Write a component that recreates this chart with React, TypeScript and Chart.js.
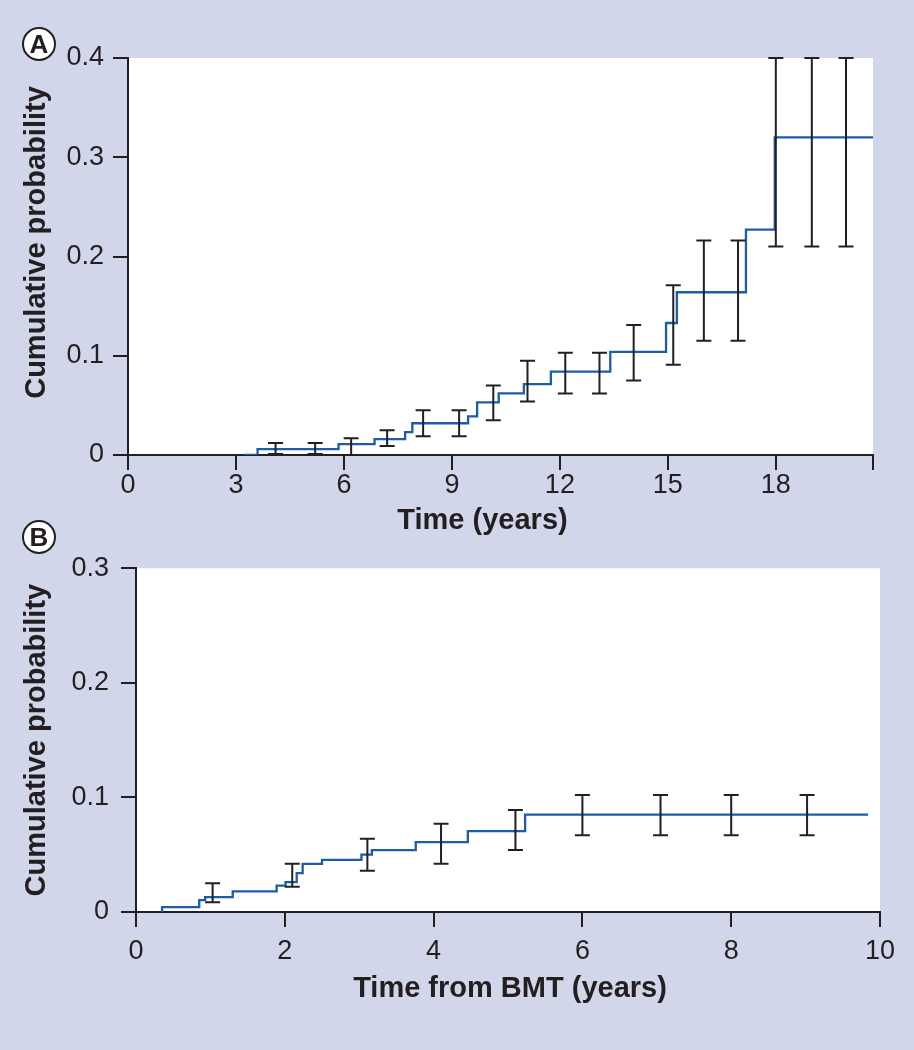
import React, { useEffect, useRef } from 'react';
import { Chart, registerables } from 'chart.js';

Chart.register(...registerables);

const BG = '#d1d6ea';
const INK = '#231f20';
const BLUE = '#1d5ca8';
const FONT = '"Liberation Sans", Arial, Helvetica, sans-serif';

// ---------- Panel A ----------
const stepTimesA = [3.2, 3.6, 5.85, 6.85, 7.7, 7.9, 9.45, 9.7, 10.3, 11.0, 11.75, 13.4, 14.95, 15.25, 17.17, 17.97, 20.7];
const stepValuesA = [0, 0.006, 0.011, 0.016, 0.023, 0.032, 0.039, 0.053, 0.062, 0.0715, 0.084, 0.104, 0.133, 0.164, 0.227, 0.32, 0.32];
const errTimesA = [4.1, 5.2, 6.2, 7.2, 8.2, 9.2, 10.15, 11.1, 12.15, 13.1, 14.05, 15.15, 16.0, 16.95, 18.0, 19.0, 19.95];
const errLowA = [0.001, 0.001, 0, 0.009, 0.019, 0.019, 0.035, 0.054, 0.062, 0.062, 0.075, 0.091, 0.115, 0.115, 0.21, 0.21, 0.21];
const errHighA = [0.012, 0.012, 0.017, 0.025, 0.045, 0.045, 0.07, 0.095, 0.103, 0.103, 0.131, 0.171, 0.216, 0.216, 0.4, 0.4, 0.4];
const xMaxA = 20.7;
const xStepA = 3;
const yMaxA = 0.4;

// ---------- Panel B ----------
const stepTimesB = [0.35, 0.35, 0.85, 0.93, 1.3, 1.89, 2.01, 2.16, 2.24, 2.5, 3.03, 3.17, 3.76, 4.46, 5.23, 9.84];
const stepValuesB = [0, 0.0043, 0.0103, 0.013, 0.018, 0.023, 0.026, 0.034, 0.042, 0.0455, 0.05, 0.054, 0.061, 0.0705, 0.085, 0.085];
const errTimesB = [1.03, 2.1, 3.11, 4.1, 5.1, 6.0, 7.05, 8.0, 9.02];
const errLowB = [0.0086, 0.022, 0.036, 0.042, 0.054, 0.067, 0.067, 0.067, 0.067];
const errHighB = [0.025, 0.042, 0.064, 0.077, 0.089, 0.102, 0.102, 0.102, 0.102];
const xMaxB = 10;
const xStepB = 2;
const yMaxB = 0.3;

const yStep = 0.1;
const yTitle = 'Cumulative probability';

const plotBg = {
  id: 'plotBg',
  beforeDraw(chart: any) {
    const { ctx, chartArea: a } = chart;
    ctx.save();
    ctx.fillStyle = '#ffffff';
    ctx.fillRect(a.left, a.top, a.right - a.left, a.bottom - a.top);
    ctx.restore();
  },
};

function errorBars(times: number[], low: number[], high: number[]) {
  return {
    id: 'errorBars',
    afterDatasetsDraw(chart: any) {
      const { ctx, scales } = chart;
      const x = scales.x;
      const y = scales.y;
      ctx.save();
      ctx.strokeStyle = INK;
      ctx.lineWidth = 2;
      ctx.lineCap = 'butt';
      times.forEach((t, i) => {
        const px = x.getPixelForValue(t);
        const lo = y.getPixelForValue(low[i]);
        const hi = y.getPixelForValue(high[i]);
        ctx.beginPath();
        ctx.moveTo(px, lo);
        ctx.lineTo(px, hi);
        ctx.moveTo(px - 7.5, lo);
        ctx.lineTo(px + 7.5, lo);
        ctx.moveTo(px - 7.5, hi);
        ctx.lineTo(px + 7.5, hi);
        ctx.stroke();
      });
      ctx.restore();
    },
  };
}

// axis titles, placed relative to the chart area
function axisTitles(xText: string, yText: string, xTitleY: number, yTitleX: number, dx: number, dy: number) {
  return {
    id: 'axisTitles',
    afterDraw(chart: any) {
      const { ctx, chartArea: a } = chart;
      ctx.save();
      ctx.fillStyle = INK;
      ctx.font = `bold 29px ${FONT}`;
      ctx.textAlign = 'center';
      ctx.textBaseline = 'middle';
      ctx.fillText(xText, (a.left + a.right) / 2 + dx, xTitleY);
      ctx.translate(yTitleX, (a.top + a.bottom) / 2 + dy);
      ctx.rotate(-Math.PI / 2);
      ctx.fillText(yText, 0, 0);
      ctx.restore();
    },
  };
}

interface PanelCfg {
  width: number;
  height: number;
  times: number[];
  values: number[];
  errT: number[];
  errL: number[];
  errH: number[];
  xMax: number;
  xStep: number;
  yMax: number;
  xTitle: string;
  yAxisWidth: number;
  xAxisHeight: number;
  padTop: number;
  padRight: number;
  xLabelPad: number;
  yLabelPad: number;
  xTitleY: number;
  yTitleX: number;
  titleDx: number;
  titleDy: number;
}

function buildChart(canvas: HTMLCanvasElement, c: PanelCfg) {
  const tickFont = { family: FONT, size: 27, weight: 'normal' as const, lineHeight: 1.2 };
  return new Chart(canvas, {
    type: 'line',
    data: {
      datasets: [
        {
          data: c.times.map((t, i) => ({ x: t, y: c.values[i] })),
          borderColor: BLUE,
          borderWidth: 2.3,
          pointRadius: 0,
          stepped: 'before',
          fill: false,
          tension: 0,
        },
      ],
    },
    options: {
      responsive: false,
      animation: false,
      maintainAspectRatio: false,
      events: [],
      layout: { padding: { top: c.padTop, right: c.padRight, left: 0, bottom: 0 } },
      plugins: {
        legend: { display: false },
        tooltip: { enabled: false },
        title: { display: false },
      },
      scales: {
        x: {
          type: 'linear',
          min: 0,
          max: c.xMax,
          afterFit: (s: any) => {
            s.height = c.xAxisHeight;
          },
          ticks: {
            stepSize: c.xStep,
            autoSkip: false,
            maxRotation: 0,
            minRotation: 0,
            padding: c.xLabelPad,
            color: INK,
            font: tickFont,
            callback: (v: any) => {
              const n = Number(v);
              const r = Math.round(n / c.xStep) * c.xStep;
              return Math.abs(n - r) < 1e-6 ? String(r) : '';
            },
          },
          grid: {
            drawOnChartArea: false,
            drawTicks: true,
            tickLength: 15,
            color: INK,
            lineWidth: 2,
          },
          border: { display: true, color: INK, width: 2 },
          title: { display: false },
        },
        y: {
          type: 'linear',
          min: 0,
          max: c.yMax,
          afterFit: (s: any) => {
            s.width = c.yAxisWidth;
          },
          ticks: {
            stepSize: yStep,
            padding: c.yLabelPad,
            color: INK,
            font: tickFont,
            callback: (v: any) => {
              const n = Number(v);
              return Math.abs(n) < 1e-9 ? '0' : n.toFixed(1);
            },
          },
          grid: {
            drawOnChartArea: false,
            drawTicks: true,
            tickLength: 15,
            color: INK,
            lineWidth: 2,
          },
          border: { display: true, color: INK, width: 2 },
          title: { display: false },
        },
      },
    },
    plugins: [
      plotBg,
      errorBars(c.errT, c.errL, c.errH),
      axisTitles(c.xTitle, yTitle, c.xTitleY, c.yTitleX, c.titleDx, c.titleDy),
    ],
  } as any);
}

const cfgA: PanelCfg = {
  width: 914,
  height: 540,
  times: stepTimesA,
  values: stepValuesA,
  errT: errTimesA,
  errL: errLowA,
  errH: errHighA,
  xMax: xMaxA,
  xStep: xStepA,
  yMax: yMaxA,
  xTitle: 'Time (years)',
  yAxisWidth: 128,
  xAxisHeight: 85,
  padTop: 58,
  padRight: 41,
  xLabelPad: -1,
  yLabelPad: 9,
  xTitleY: 521,
  yTitleX: 37,
  titleDx: -18,
  titleDy: -14,
};

const cfgB: PanelCfg = {
  width: 914,
  height: 510,
  times: stepTimesB,
  values: stepValuesB,
  errT: errTimesB,
  errL: errLowB,
  errH: errHighB,
  xMax: xMaxB,
  xStep: xStepB,
  yMax: yMaxB,
  xTitle: 'Time from BMT (years)',
  yAxisWidth: 136,
  xAxisHeight: 138,
  padTop: 23,
  padRight: 34,
  xLabelPad: 8,
  yLabelPad: 12,
  xTitleY: 449,
  yTitleX: 37,
  titleDx: 2,
  titleDy: 0,
};

function Panel({ cfg, top }: { cfg: PanelCfg; top: number }) {
  const ref = useRef<HTMLCanvasElement | null>(null);
  useEffect(() => {
    if (!ref.current) return;
    const chart = buildChart(ref.current, cfg);
    return () => chart.destroy();
  }, [cfg]);
  return (
    <canvas
      ref={ref}
      width={cfg.width}
      height={cfg.height}
      style={{ position: 'absolute', left: 0, top, width: cfg.width, height: cfg.height }}
    />
  );
}

function Badge({ letter, cx, cy }: { letter: string; cx: number; cy: number }) {
  const d = 34;
  return (
    <div
      style={{
        position: 'absolute',
        left: cx - d / 2,
        top: cy - d / 2,
        width: d,
        height: d,
        boxSizing: 'border-box',
        borderRadius: '50%',
        border: `2px solid ${INK}`,
        background: '#ffffff',
        color: INK,
        fontFamily: FONT,
        fontWeight: 'bold',
        fontSize: 26,
        lineHeight: `${d - 4}px`,
        textAlign: 'center',
      }}
    >
      {letter}
    </div>
  );
}

export default function App() {
  return (
    <div
      style={{
        position: 'fixed',
        left: 0,
        top: 0,
        width: 914,
        height: 1050,
        background: BG,
        overflow: 'hidden',
      }}
    >
      <Panel cfg={cfgA} top={0} />
      <Panel cfg={cfgB} top={540} />
      <Badge letter="A" cx={39} cy={44} />
      <Badge letter="B" cx={39} cy={537} />
    </div>
  );
}
